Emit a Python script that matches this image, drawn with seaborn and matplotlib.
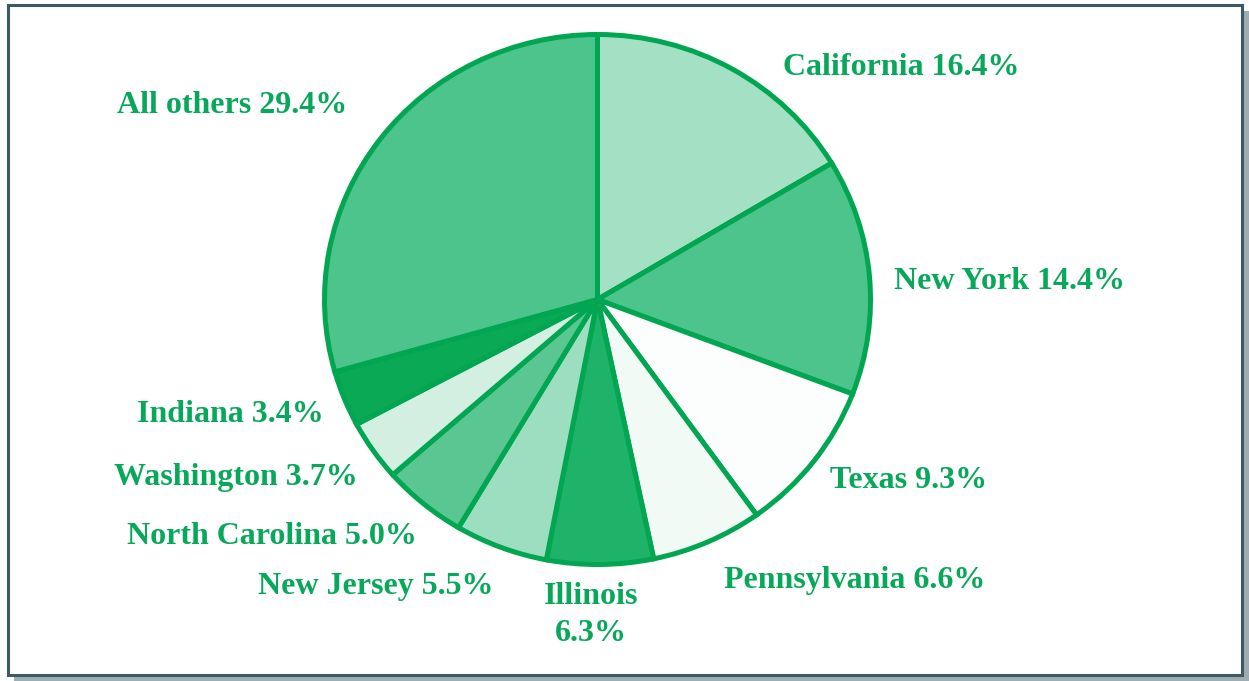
import matplotlib
matplotlib.use("Agg")
import matplotlib.pyplot as plt
from matplotlib.patches import Rectangle
import seaborn as sns

# data, clockwise from 12 o'clock
states = ["California", "New York", "Texas", "Pennsylvania", "Illinois",
          "New Jersey", "North Carolina", "Washington", "Indiana", "All others"]
shares = [16.4, 14.4, 9.3, 6.6, 6.3, 5.5, 5.0, 3.7, 3.4, 29.4]
colors = ["#a3e0c4", "#4dc48b", "#fbfefd", "#f2faf6", "#1fb36a",
          "#9cdebf", "#5ac792", "#d3efe2", "#0aa956", "#4dc48b"]

sns.set_theme(style="white")
plt.rcParams['font.family'] = ['Liberation Serif', 'DejaVu Serif']

W, H = 1249, 681
fig = plt.figure(figsize=(W / 100, H / 100), dpi=100)
fig.patch.set_facecolor("white")


def px_rect(x0, y0, x1, y1):
    # pixel box (top-left origin) -> figure fraction
    return (x0 / W, 1 - y1 / H), (x1 - x0) / W, (y1 - y0) / H


# drop shadow + framed panel (kept below the axes)
xy, w, h = px_rect(14, 11, 1249, 681)
fig.patches.append(Rectangle(xy, w, h, transform=fig.transFigure,
                             facecolor="#9fadb2", edgecolor="none", zorder=-2))
xy, w, h = px_rect(8, 5.3, 1242, 674.7)
fig.patches.append(Rectangle(xy, w, h, transform=fig.transFigure,
                             facecolor="white", edgecolor="#3d5963",
                             linewidth=2.2, zorder=-1))

# pie axes, slightly wider than tall like the original
cx, cy, rx, ry = 597.5, 299.5, 273, 265
ax = fig.add_axes([(cx - 1.1 * rx) / W, 1 - (cy + 1.1 * ry) / H,
                   2.2 * rx / W, 2.2 * ry / H])
ax.set_facecolor("none")
ax.pie(shares, colors=colors, startangle=90, counterclock=False,
       wedgeprops={'edgecolor': '#00a651', 'linewidth': 3.6})
ax.set_aspect('auto')
ax.set_xlim(-1.1, 1.1)
ax.set_ylim(-1.1, 1.1)
ax.axis('off')

labels = [f"{s} {v:.1f}%" for s, v in zip(states, shares)]
labels[4] = f"{states[4]}\n{shares[4]:.1f}%"

# label anchors in pixels: (x, baseline y, ha)
spots = [(783, 75, 'left'), (894, 289, 'left'), (830, 488, 'left'),
         (724, 588, 'left'), (591, 641, 'center'), (258, 594, 'left'),
         (127, 544, 'left'), (114, 485, 'left'), (137, 422, 'left'),
         (117, 113, 'left')]

for lab, (x, y, ha) in zip(labels, spots):
    fig.text(x / W, 1 - y / H, lab, ha=ha, va='baseline', fontsize=23,
             fontweight='bold', color='#08a85a', linespacing=1.35,
             multialignment='center')

fig.savefig("out.png", dpi=100)
